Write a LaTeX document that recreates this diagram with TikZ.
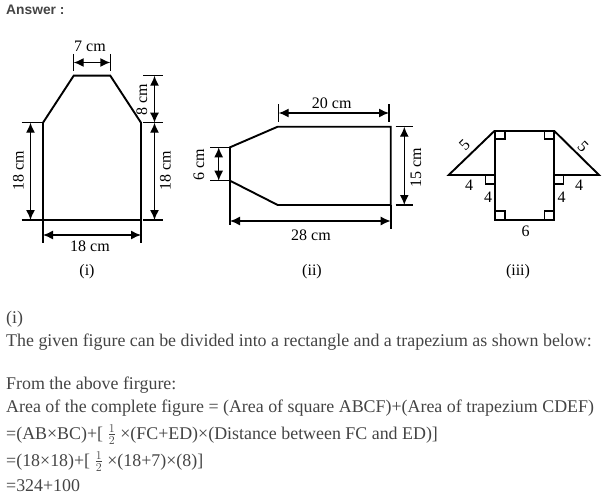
\documentclass[tikz,border=0pt]{standalone}
\usepackage{fontspec}
\setmainfont{Liberation Serif}
\newfontfamily\headfont{Liberation Sans}
\usetikzlibrary{arrows.meta}
\definecolor{prosegray}{HTML}{444444}

\begin{document}
\begin{tikzpicture}[
    x=1pt, y=-1pt,
    outline/.style={black, line width=1.9pt, line join=miter}, % Figure edges
    tick/.style={black, line width=1.2pt}, % Extension lines
    dim/.style={black, line width=1.4pt, {Latex[length=10pt,width=9pt]}-{Latex[length=10pt,width=9pt]}}, % Dimension arrows
    corner/.style={black, line width=1.4pt}, % Right angle marks
    size/.style={font=\fontsize{16}{18}\selectfont, inner sep=0pt}, % Figure labels
    side/.style={size, rotate=90},
    prose/.style={anchor=base west, inner sep=0pt, text=prosegray, font=\fontsize{17.9}{20}\selectfont} % Answer text
]
    \useasboundingbox (0,0) rectangle (616,495);

    \node[anchor=base west, inner sep=0pt, text=prosegray, font=\fontsize{13.8}{15}\headfont\bfseries] (answer) at (6,15) {Answer :};

    % Figure (i)
    \coordinate (a1) at (43,220);
    \coordinate (b1) at (141,220);
    \coordinate (c1) at (141,122.7);
    \coordinate (d1) at (110.3,75.7);
    \coordinate (e1) at (73.7,75.7);
    \coordinate (f1) at (43,122.7);
    \draw[outline] (a1) -- (b1) -- (c1) -- (d1) -- (e1) -- (f1) -- cycle;

    \draw[tick] (73.7,54) -- (73.7,71);
    \draw[tick] (110.3,54) -- (110.3,71);
    \draw[dim] (73.7,62.5) -- (110.3,62.5);
    \node[size] (top1) at (90,46) {7 cm};

    \draw[tick] (143,75.7) -- (163,75.7);
    \draw[tick] (143,122.7) -- (163,122.7);
    \draw[tick] (143,220) -- (163,220);
    \draw[dim] (154.5,75.7) -- (154.5,122.7);
    \draw[dim] (154.5,122.7) -- (154.5,220);
    \node[side] (slant1) at (142,100) {8 cm};
    \node[side] (right1) at (165.5,171) {18 cm};

    \draw[tick] (21.5,122.7) -- (f1);
    \draw[tick] (21.5,220) -- (a1);
    \draw[dim] (30.5,122.7) -- (30.5,220);
    \node[side] (left1) at (18.5,171) {18 cm};

    \draw[tick] (a1) -- (43,243);
    \draw[tick] (b1) -- (141,243);
    \draw[dim] (43,235) -- (141,235);
    \node[size] (base1) at (90,246.5) {18 cm};
    \node[size] (cap1) at (87,272) {(i)};

    % Figure (ii)
    \coordinate (a2) at (230,147.3);
    \coordinate (b2) at (277.7,126.7);
    \coordinate (c2) at (390.7,126.7);
    \coordinate (d2) at (390.7,205);
    \coordinate (e2) at (277.7,205);
    \coordinate (f2) at (230,180.7);
    \draw[outline] (a2) -- (b2) -- (c2) -- (d2) -- (e2) -- (f2) -- cycle;

    \draw[tick] (278.7,104) -- (278.7,122);
    \draw[tick] (389,104) -- (389,122);
    \draw[dim] (278.7,113) -- (389,113);
    \node[size] (top2) at (331.7,103) {20 cm};

    \draw[tick] (395.7,126.7) -- (413,126.7);
    \draw[tick] (395.7,205) -- (413,205);
    \draw[dim] (404.3,126.7) -- (404.3,205);
    \node[side] (right2) at (416,167.5) {15 cm};

    \draw[tick] (210,147.3) -- (a2);
    \draw[tick] (210,180.7) -- (f2);
    \draw[dim] (218.7,147.3) -- (218.7,180.7);
    \node[side] (left2) at (199,165) {6 cm};

    \draw[outline] (f2) -- (230,225);
    \draw[outline] (d2) -- (390.7,229);
    \draw[dim] (230,221) -- (390.7,221);
    \node[size] (base2) at (311,235) {28 cm};
    \node[size] (cap2) at (312,272) {(ii)};

    % Figure (iii)
    \coordinate (a3) at (494.7,130.7);
    \coordinate (b3) at (554,130.7);
    \coordinate (c3) at (554,219.7);
    \coordinate (d3) at (494.7,219.7);
    \coordinate (l3) at (448.7,175);
    \coordinate (m3) at (494.7,175);
    \coordinate (n3) at (554,175);
    \coordinate (r3) at (599,175);
    \draw[outline] (a3) -- (b3) -- (c3) -- (d3) -- cycle;
    \draw[outline] (a3) -- (l3) -- (m3);
    \draw[outline] (b3) -- (r3) -- (n3);

    % Right angle marks
    \draw[corner] (505,130.7) -- (505,139) -- (494.7,139);
    \draw[corner] (544.3,130.7) -- (544.3,139) -- (554,139);
    \draw[corner] (505,219.7) -- (505,211) -- (494.7,211);
    \draw[corner] (544.3,219.7) -- (544.3,211) -- (554,211);
    \draw[corner] (485.7,175) -- (485.7,184) -- (494.7,184);
    \draw[corner] (563.3,175) -- (563.3,184) -- (554,184);

    \node[size, rotate=45] (five1) at (464.5,145) {5};
    \node[size, rotate=-45] (five2) at (583,147) {5};
    \node[size] (four1) at (469,185) {4};
    \node[size] (four2) at (488,197) {4};
    \node[size] (four3) at (561.7,197) {4};
    \node[size] (four4) at (579,185) {4};
    \node[size] (six3) at (525.7,231) {6};
    \node[size] (cap3) at (518,271.5) {(iii)};

    % Answer text
    \node[prose] (line1) at (6,323) {(i)};
    \node[prose] (line2) at (6,346) {The given figure can be divided into a rectangle and a trapezium as shown below:};
    \node[prose] (line3) at (6,389) {From the above firgure:};
    \node[prose] (line4) at (6,412) {Area of the complete figure = (Area of square ABCF)+(Area of trapezium CDEF)};
    \node[prose] (line5) at (6,439) {=(AB×BC)+[ $\frac{1}{2}$ ×(FC+ED)×(Distance between FC and ED)]};
    \node[prose] (line6) at (6,466) {=(18×18)+[ $\frac{1}{2}$ ×(18+7)×(8)]};
    \node[prose] (line7) at (6,491.5) {=324+100};
\end{tikzpicture}
\end{document}
